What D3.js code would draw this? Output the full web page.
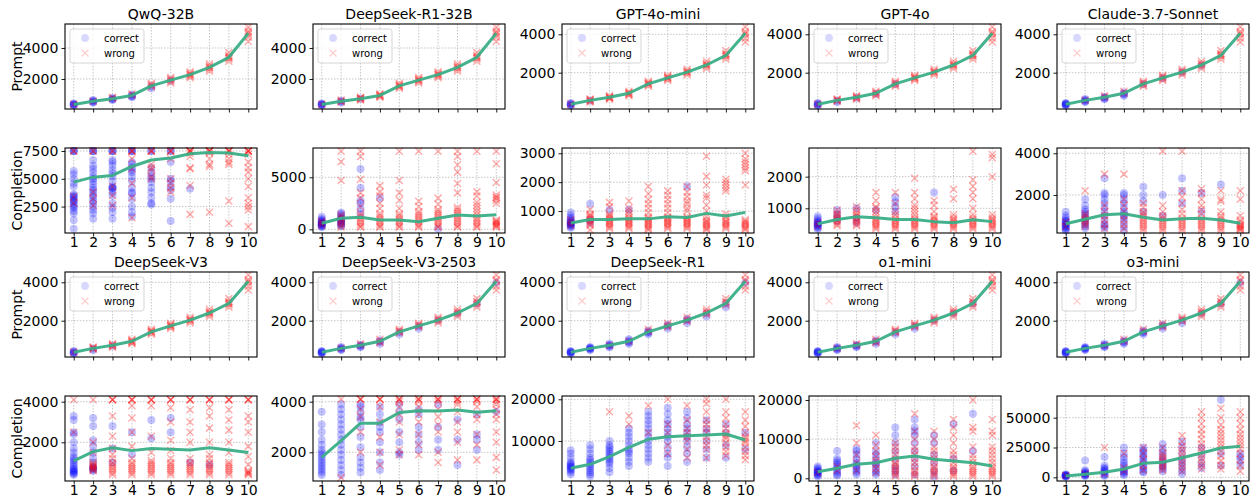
<!DOCTYPE html>
<html lang="en">
<head>
<meta charset="UTF-8">
<title>Prompt and completion tokens per step</title>
<script src="https://d3js.org/d3.v7.min.js"></script>
<style>
  body { margin: 0; background: #fff; font-family: "DejaVu Sans", sans-serif; }
  .grid line { stroke: #b8b8b8; stroke-width: 0.8; stroke-dasharray: 1.5,1.5; }
</style>
</head>
<body>
<svg width="1257" height="502"></svg>
<script>
const steps = [1, 2, 3, 4, 5, 6, 7, 8, 9, 10];

// prompt tokens: same questions for every model, two tokenizer families
const qwenPromptSamples = [
  [350, 300, 390, 330, 420, 370], [550, 480, 600, 520, 640, 570], [720, 640, 770, 690, 820, 740],
  [920, 820, 990, 880, 1050, 950], [1540, 1400, 1630, 1480, 1720, 1580], [1910, 1750, 2000, 1850, 2100, 1950],
  [2260, 2080, 2350, 2180, 2460, 2300], [2720, 2500, 2850, 2630, 2980, 2780], [3380, 3150, 3520, 3300, 3700, 3440],
  [4880, 4420, 5100, 4700, 5330, 4980]
];
const qwenPromptMean = [360, 560, 730, 940, 1560, 1930, 2280, 2750, 3400, 4950];
const gptPromptSamples = [
  [345, 290, 385, 320, 420, 365], [540, 470, 590, 510, 630, 565], [700, 620, 750, 670, 800, 725],
  [900, 800, 965, 860, 1030, 930], [1410, 1300, 1480, 1370, 1550, 1440], [1720, 1600, 1790, 1680, 1870, 1750],
  [2020, 1880, 2090, 1970, 2180, 2050], [2390, 2220, 2480, 2330, 2600, 2430], [2890, 2700, 3000, 2820, 3150, 2940],
  [3980, 3600, 4150, 3800, 4380, 4050]
];
const gptPromptMean = [360, 560, 720, 930, 1420, 1730, 2030, 2400, 2900, 4050];

// how many of the prompt samples per step were answered correctly
const qwqPromptOk = [5, 5, 4, 4, 2, 1, 0, 0, 0, 0];
const r1d32PromptOk = [5, 3, 1, 0, 0, 0, 0, 0, 0, 0];
const miniPromptOk = [5, 1, 0, 0, 0, 0, 0, 0, 0, 0];
const gpt4oPromptOk = [5, 2, 1, 1, 1, 0, 0, 0, 0, 0];
const claudePromptOk = [6, 5, 4, 4, 1, 1, 1, 1, 0, 0];
const v3PromptOk = [5, 2, 1, 0, 0, 0, 0, 0, 0, 0];
const v3nPromptOk = [6, 5, 4, 3, 2, 2, 1, 1, 1, 1];
const r1PromptOk = [6, 6, 5, 5, 4, 3, 3, 2, 2, 1];
const o1PromptOk = [6, 5, 4, 3, 2, 2, 1, 1, 1, 0];
const o3PromptOk = [6, 6, 5, 4, 4, 3, 2, 1, 1, 1];

// completion tokens
const qwqCompMean = [4700, 5150, 5300, 6110, 6690, 6870, 7260, 7370, 7320, 7080];
const qwqCompOk = [
  [7500, 7500, 7500, 5700, 5400, 5000, 4600, 4300, 3600, 3500, 3400, 3300, 3100, 3000, 2900, 2700, 2500, 2400, 2100, 1900, 1300, 500],
  [7500, 7500, 7500, 6700, 6200, 5900, 5600, 5200, 5000, 4800, 4500, 4200, 4000, 3800, 3500, 3300, 3000, 2800, 2500, 2200, 1900, 1400],
  [7500, 7500, 7500, 6700, 6500, 6200, 5800, 5500, 5200, 4800, 4300, 4200, 4200, 4100, 3800, 3500, 2800, 2400, 2000, 1400],
  [7500, 7500, 7500, 6500, 6300, 6000, 5800, 5600, 5200, 4800, 4200, 3800, 3700, 3200, 2500, 2000, 1600],
  [7500, 7500, 6000, 5600, 5200, 5000, 4700, 4200, 3800, 3300, 2800, 2700],
  [7500, 7500, 6500, 5000, 4800, 4300, 4000, 3200, 1200],
  [4100], [], [], []
];
const qwqCompBad = [
  [7500, 7500, 3400, 2800], [7500, 7500, 3800, 3200, 2600], [7500, 7500, 4300, 3500, 2600],
  [7500, 7500, 7500, 6800, 5900, 4600, 3300, 1500], [7500, 7500, 7500, 6300, 6000, 5800, 5200, 5000],
  [7500, 7500, 7500, 6800, 5000, 4600, 4200, 3800], [7500, 7500, 7500, 7500, 7300, 7000, 6000, 5900, 4400, 1800],
  [7500, 7500, 7500, 7500, 7300, 6800, 6300, 6100, 2000], [7500, 7500, 7500, 7500, 7200, 6800, 6500, 6300, 3000, 1000],
  [7500, 7500, 7500, 7500, 7200, 6500, 6000, 5600, 5000, 4300, 3300, 2800, 2500, 2200, 700]
];

const r1d32CompMean = [580, 1060, 1150, 890, 890, 730, 1060, 1380, 1280, 1400];
const r1d32CompOk = [
  [200, 300, 350, 400, 450, 500, 550, 600, 650, 700, 800, 900, 1000, 1200],
  [300, 400, 500, 600, 700, 800, 900, 1000, 1100, 1300, 1500, 1600],
  [5800, 4000, 2800, 2500, 2000, 1500], [3000], [], [], [50], [], [], []
];
const r1d32CompBad = [
  [400, 600, 800],
  [200, 400, 600, 800, 1000, 1200, 1400, 4700, 6500, 7500],
  [200, 300, 500, 700, 900, 1100, 1300, 1500, 2200, 3000, 3500, 4800, 7000, 7500],
  [200, 300, 500, 700, 900, 1100, 1300, 1500, 2000, 2500, 3200, 3600, 4200],
  [200, 300, 500, 700, 900, 1100, 1300, 1500, 2000, 2800, 3500, 4700, 7500],
  [200, 300, 500, 700, 900, 1100, 1300, 1500, 1700, 2200, 2700, 7500],
  [200, 300, 500, 700, 900, 1100, 1300, 1500, 1700, 1900, 2400, 3000, 7500],
  [200, 300, 500, 700, 900, 1100, 1300, 1500, 1700, 1900, 2100, 3500, 4400, 5500, 6200, 7000, 7500],
  [200, 300, 500, 700, 900, 1100, 1400, 1700, 2000, 2300, 2600, 3200, 3600, 7500],
  [200, 300, 400, 500, 600, 700, 800, 900, 2500, 2800, 3000, 3100, 3300, 4500, 6300, 7500]
];

const miniCompMean = [590, 705, 705, 730, 730, 800, 780, 920, 830, 955];
const miniCompOk = [
  [420, 460, 500, 520, 550, 570, 590, 610, 640, 680, 720, 780, 850, 950],
  [1250, 700, 600], [1050], [1050], [], [], [1850], [], [], []
];
const miniCompBad = [
  [500, 600, 700],
  [350, 500, 550, 600, 650, 700, 750, 800, 850, 900, 1050],
  [400, 450, 500, 550, 600, 650, 700, 750, 800, 850, 900, 1150, 1300],
  [400, 450, 500, 550, 600, 650, 700, 750, 800, 900, 1000, 1100, 1350],
  [350, 400, 450, 500, 550, 600, 650, 700, 750, 800, 950, 1100, 1250, 1400, 1600, 1850],
  [400, 450, 500, 550, 600, 650, 700, 750, 800, 950, 1100, 1250, 1400, 1550, 1700],
  [400, 450, 500, 550, 600, 650, 700, 750, 800, 1000, 1100, 1250, 1350, 1500, 1650, 1850],
  [350, 400, 450, 500, 550, 600, 650, 700, 800, 1000, 1200, 1450, 1550, 1900, 2200, 2900],
  [400, 450, 500, 550, 600, 650, 700, 800, 900, 1700, 1800, 1900, 2000, 2100],
  [350, 400, 450, 500, 550, 600, 650, 700, 1900, 2400, 2500, 2600, 2700, 2800, 3000]
];

const gpt4oCompMean = [510, 650, 735, 705, 650, 650, 580, 545, 640, 580];
const gpt4oCompOk = [
  [350, 380, 420, 450, 480, 500, 520, 550, 580, 620, 680, 750],
  [950, 800, 700, 600], [1000, 700, 550], [950], [900, 1050, 1200, 1350], [], [1500], [], [], []
];
const gpt4oCompBad = [
  [450, 550],
  [450, 500, 550, 600, 650, 700, 750, 800, 850, 950],
  [450, 500, 550, 600, 650, 700, 750, 800, 850, 950, 1050],
  [350, 400, 450, 500, 550, 600, 650, 700, 800, 900, 1000, 1050, 1250, 1500],
  [350, 400, 450, 500, 550, 600, 650, 700, 800, 900, 1150, 1500],
  [350, 400, 450, 500, 550, 600, 650, 700, 800, 900, 1000, 1100, 1300, 1500, 1950],
  [350, 400, 450, 500, 550, 600, 650, 700, 750, 900, 1100, 1250],
  [350, 400, 450, 500, 550, 600, 650, 700, 800, 1300, 1600],
  [350, 400, 450, 500, 550, 600, 650, 700, 800, 1000, 1300, 1500, 1700, 1900, 2800],
  [350, 400, 450, 500, 550, 600, 650, 700, 800, 2000, 2600, 2700]
];

const claudeCompMean = [620, 840, 1050, 1100, 930, 800, 865, 880, 800, 640];
const claudeCompOk = [
  [300, 350, 400, 450, 500, 550, 600, 650, 700, 750, 800, 900, 1000, 1200],
  [400, 500, 600, 700, 800, 900, 1000, 1100, 1200, 1300, 1500, 1800],
  [400, 500, 600, 800, 1000, 1200, 1400, 1600, 1800, 2000, 2100, 2800],
  [300, 500, 700, 900, 1000, 1100, 1200, 1400, 1600, 1800, 2000, 2100],
  [1700, 2000, 2400, 1200], [2000, 1000], [2200, 2800, 1600], [2100, 1200], [2500], []
];
const claudeCompBad = [
  [500, 700],
  [500, 600, 700, 800, 900, 1000, 1100, 2200],
  [400, 600, 800, 1000, 1200, 1500, 3000],
  [400, 600, 800, 1000, 1200, 1500, 1800, 3000],
  [300, 400, 500, 600, 700, 800, 900, 1000, 1100, 1200, 1400, 1600],
  [300, 400, 500, 600, 700, 800, 900, 1000, 1200, 1500, 4100],
  [300, 400, 500, 600, 700, 800, 900, 1100, 1300, 1600, 1900, 2200, 4100],
  [300, 400, 500, 600, 700, 800, 900, 1100, 1300, 1500, 1800, 2100, 2300],
  [300, 400, 500, 600, 700, 800, 900, 1000, 1200, 1700, 1800, 2200],
  [300, 350, 400, 450, 500, 550, 600, 700, 800, 1000, 1800, 2200]
];

const v3CompMean = [1090, 1540, 1730, 1590, 1690, 1660, 1620, 1730, 1620, 1500];
const v3CompOk = [
  [400, 450, 500, 550, 600, 650, 700, 800, 900, 1000, 1100, 1200, 1300, 1500, 1700, 2000, 2400, 2500, 3100, 3300],
  [600, 650, 700, 750, 800, 1000, 1200, 1500, 1800, 2100, 2800, 3200],
  [2800, 1700, 1000], [2500, 1400], [2200, 3100], [2500, 3200], [1000], [900], [], []
];
const v3CompBad = [
  [4100, 2500],
  [4100, 600, 650, 700, 750, 800, 850, 900, 1000, 1500, 2000],
  [4100, 4100, 4100, 400, 500, 600, 700, 800, 900, 1000, 1200, 1400, 1700, 2300, 3300],
  [4100, 4100, 4100, 400, 500, 600, 700, 800, 900, 1000, 1200, 1800, 2500, 3200, 3800],
  [4100, 4100, 4100, 400, 500, 600, 700, 800, 900, 1000, 1100, 1500, 2300, 3800],
  [4100, 4100, 4100, 400, 500, 600, 700, 800, 900, 1000, 1200, 1600, 2100, 3000, 3700],
  [4100, 4100, 4100, 400, 500, 600, 700, 800, 900, 1000, 1200, 2000, 2500, 3000, 3600],
  [4100, 4100, 4100, 400, 500, 600, 700, 800, 900, 1000, 1200, 1400, 2000, 2700, 3300, 3700],
  [4100, 4100, 4100, 400, 500, 600, 700, 800, 900, 1000, 1500, 2000, 2600, 3100, 3600],
  [4100, 4100, 4100, 400, 450, 500, 550, 600, 900, 1300, 1800, 2500, 3000, 3300]
];

const v3nCompMean = [1800, 2460, 3150, 3150, 3570, 3640, 3630, 3670, 3580, 3640];
const v3nCompOk = [
  [1100, 1200, 1300, 1400, 1500, 1600, 1700, 1800, 1900, 2000, 2100, 2300, 2500, 2800, 3100, 3600],
  [1100, 1300, 1500, 1700, 1900, 2100, 2300, 2500, 2700, 2900, 3100, 3300, 3500, 3700, 3900],
  [1200, 1400, 1600, 1800, 2200, 2600, 3000, 3300, 3400, 3600, 3800, 3900],
  [1300, 1600, 2000, 2400, 2800, 3000, 3200, 3500, 3800],
  [1900, 2000, 2400, 2800, 3300, 3600, 3900],
  [2100, 2400, 2700, 3000, 3500, 3700],
  [2100, 2500, 3000, 3900], [1500, 2500, 3300], [2100, 2500, 2700, 3500], [3600]
];
const v3nCompBad = [
  [],
  [4100, 1000],
  [4100, 4100, 4100, 2000, 2800, 3400, 3700],
  [4100, 4100, 4100, 1500, 2000, 2600, 3200, 3800],
  [4100, 4100, 4100, 1900, 2100, 2700, 3200, 3500, 3800, 4000],
  [4100, 4100, 4100, 1900, 2300, 2700, 3200, 3500, 3800, 4000],
  [4100, 4100, 4100, 1600, 2000, 2800, 3100, 3400, 3700, 4000],
  [4100, 4100, 4100, 1700, 2400, 2800, 3200, 3600, 3900, 4000],
  [4100, 4100, 4100, 1700, 2300, 2700, 3300, 3500, 3800, 4000],
  [4100, 4100, 4100, 1300, 1800, 2400, 2800, 3300, 3500, 3700, 3900, 4000]
];

const r1CompMean = [3450, 4410, 6240, 8490, 10410, 11030, 11270, 11440, 11680, 10240];
const r1CompOk = [
  [2000, 2500, 3000, 3200, 3500, 3800, 4000, 4300, 4600, 5000, 6000, 7000, 7800],
  [1500, 2000, 2500, 3000, 3500, 4000, 4500, 5000, 5500, 6000, 7000, 8000, 9000],
  [2500, 3500, 4500, 5000, 5500, 6000, 6500, 7000, 7500, 8000, 8500, 9000, 10000],
  [4000, 5000, 6000, 7000, 7500, 8000, 9000, 10000, 11000, 12000, 13000],
  [5000, 6000, 7000, 8000, 9000, 10000, 11000, 12000, 13000, 14000, 15000, 16000, 17000],
  [4000, 6000, 7000, 8500, 10000, 11000, 12000, 13000, 14000, 15000, 16500, 18000],
  [5000, 7000, 8500, 10000, 11000, 12000, 13000, 14000, 15500, 17000],
  [6000, 8000, 10000, 12000, 13000, 15000],
  [6000, 9000, 12000, 14000],
  [8000, 12000]
];
const r1CompBad = [
  [], [], [17000], [14000, 16000], [18500, 12000], [7000, 9000, 12000, 14000, 20000],
  [6000, 8000, 10000, 11000, 12000, 13000, 15000, 18500],
  [6000, 8000, 9000, 10000, 11000, 12000, 13000, 14000, 15000, 17000, 19000, 20000],
  [6500, 7500, 8500, 9500, 10500, 11000, 11500, 12000, 13000, 14000, 15500, 17000, 20000],
  [5500, 6500, 7500, 8500, 9500, 10000, 10500, 11000, 12000, 13500, 15000, 17000]
];

const o1CompMean = [1680, 2550, 3570, 3980, 5100, 5690, 4850, 4410, 3980, 3140];
const o1CompOk = [
  [500, 800, 1000, 1200, 1400, 1600, 1800, 2000, 2300, 2600, 3000],
  [700, 1000, 1500, 2000, 2500, 3000, 3500, 4000, 4500, 5000, 7000],
  [1000, 1500, 2000, 2500, 3000, 3500, 4000, 5000, 6000, 7000, 7500],
  [1000, 1500, 2000, 3000, 3500, 4000, 5000, 6000, 7000, 9000],
  [1000, 2000, 3000, 5000, 7000, 9000, 11000, 13000],
  [1000, 3000, 5000, 7000, 9000, 11000, 12000, 13000, 15000],
  [500, 2000, 4000, 6000, 9000, 11000],
  [2000, 5000, 13800], [7000, 16500], []
];
const o1CompBad = [
  [1500], [2000, 3000], [2000, 4000, 6000, 9000, 13500],
  [1500, 2500, 3500, 4500, 5500, 7000, 8500, 11000],
  [500, 1000, 1500, 2000, 2500, 3000, 3500, 4000, 5000, 6000, 7000, 8000, 9000],
  [500, 1000, 1500, 2000, 3000, 4000, 5000, 6000, 7000, 8000, 10000, 12000, 16500],
  [500, 1000, 1500, 2000, 2500, 3000, 4000, 5000, 6000, 7000, 8000, 10000, 12000],
  [500, 1000, 1500, 2000, 2500, 3000, 4000, 5000, 6000, 7000, 9000, 11000, 13000, 15000],
  [500, 1000, 1500, 2000, 2500, 3000, 4000, 5000, 6000, 8000, 12000, 13000, 20000],
  [500, 1000, 1500, 2000, 2500, 3000, 4000, 5000, 6000, 7000, 8000, 11000, 12000, 15000]
];

const o3CompMean = [1090, 2500, 4200, 6960, 11700, 12580, 16440, 20400, 24600, 26000];
const o3CompOk = [
  [500, 800, 1000, 1200, 1500, 1800, 2000, 2500],
  [1000, 1500, 2000, 2500, 3000, 3500, 4000, 5000, 6000, 14000],
  [1000, 2000, 3000, 4000, 5000, 6000, 7000, 8000, 10000, 17000],
  [2000, 3000, 4000, 5000, 6000, 8000, 10000, 12000, 14000, 17000, 20000, 25000],
  [4000, 5000, 7000, 9000, 11000, 13000, 15000, 17000, 19000, 21000, 23000, 25000],
  [5000, 7000, 9000, 11000, 13000, 15000, 18000, 21000, 24000, 28000],
  [3000, 6000, 9000, 12000, 15000, 20000, 25000, 30000],
  [8000, 12000, 18000, 25000], [10000, 20000, 65000], [10000, 14000, 17000, 20000]
];
const o3CompBad = [
  [1500], [3000], [3000, 25000], [5000, 8000, 20000], [6000, 10000, 15000, 20000, 25000],
  [6000, 8000, 10000, 12000, 14000, 16000, 18000, 20000, 25000],
  [5000, 8000, 11000, 14000, 17000, 20000, 23000, 26000, 30000, 35000],
  [7000, 10000, 13000, 16000, 19000, 22000, 25000, 28000, 32000, 36000, 40000, 45000, 50000, 55000],
  [7000, 10000, 14000, 18000, 22000, 25000, 28000, 31000, 34000, 37000, 40000, 44000, 50000, 58000],
  [5000, 10000, 15000, 20000, 24000, 27000, 30000, 33000, 36000, 40000, 45000, 50000, 55000]
];

// split prompt samples into correct / wrong using the per-step counts
function splitPrompt(samples, okCounts) {
  return {
    ok: samples.map((s, i) => s.slice(0, okCounts[i])),
    bad: samples.map((s, i) => s.slice(okCounts[i]))
  };
}

const promptPanels = [
  ["QwQ-32B", qwenPromptSamples, qwenPromptMean, qwqPromptOk, [65, 5548]],
  ["DeepSeek-R1-32B", qwenPromptSamples, qwenPromptMean, r1d32PromptOk, [65, 5548]],
  ["GPT-4o-mini", gptPromptSamples, gptPromptMean, miniPromptOk, [110, 4536]],
  ["GPT-4o", gptPromptSamples, gptPromptMean, gpt4oPromptOk, [110, 4536]],
  ["Claude-3.7-Sonnet", gptPromptSamples, gptPromptMean, claudePromptOk, [110, 4536]],
  ["DeepSeek-V3", gptPromptSamples, gptPromptMean, v3PromptOk, [110, 4536]],
  ["DeepSeek-V3-2503", gptPromptSamples, gptPromptMean, v3nPromptOk, [110, 4536]],
  ["DeepSeek-R1", gptPromptSamples, gptPromptMean, r1PromptOk, [110, 4536]],
  ["o1-mini", gptPromptSamples, gptPromptMean, o1PromptOk, [110, 4536]],
  ["o3-mini", gptPromptSamples, gptPromptMean, o3PromptOk, [110, 4536]]
];
const compPanels = [
  [qwqCompMean, qwqCompOk, qwqCompBad, [126, 7770], [2500, 5000, 7500]],
  [r1d32CompMean, r1d32CompOk, r1d32CompBad, [-356, 7817], [0, 5000]],
  [miniCompMean, miniCompOk, miniCompBad, [241, 3183], [1000, 2000, 3000]],
  [gpt4oCompMean, gpt4oCompOk, gpt4oCompBad, [221, 2905], [1000, 2000]],
  [claudeCompMean, claudeCompOk, claudeCompBad, [177, 4254], [2000, 4000]],
  [v3CompMean, v3CompOk, v3CompBad, [94, 4281], [2000, 4000]],
  [v3nCompMean, v3nCompOk, v3nCompBad, [866, 4225], [2000, 4000]],
  [r1CompMean, r1CompOk, r1CompBad, [408, 20791], [10000, 20000]],
  [o1CompMean, o1CompOk, o1CompBad, [-689, 21020], [0, 10000, 20000]],
  [o3CompMean, o3CompOk, o3CompBad, [-3100, 68200], [0, 25000, 50000]]
];

const lefts = [65, 313, 562, 809, 1057];
const tops = [24, 148, 272, 396];
const W = 192, H = 85;
const lineColor = "#3aae86";
const svg = d3.select("svg");
const font = "DejaVu Sans, sans-serif";
const xMark = "M-3.5,-3.5L3.5,3.5M-3.5,3.5L3.5,-3.5";

function drawPanel(row, col, o) {
  const g = svg.append("g").attr("transform", `translate(${lefts[col]},${tops[row]})`);
  const x = d3.scaleLinear().domain([0.55, 10.45]).range([0, W]);
  const y = d3.scaleLinear().domain(o.ylim).range([H, 0]);

  // grid
  const grid = g.append("g").attr("class", "grid");
  grid.selectAll(".gx").data(steps).enter().append("line")
    .attr("x1", d => x(d)).attr("x2", d => x(d)).attr("y1", 0).attr("y2", H);
  grid.selectAll(".gy").data(o.ticks).enter().append("line")
    .attr("x1", 0).attr("x2", W).attr("y1", d => y(d)).attr("y2", d => y(d));

  // axes
  const ax = g.append("g").attr("transform", `translate(0,${H})`)
    .call(d3.axisBottom(x).tickValues(steps).tickSize(3.5).tickPadding(0.5)
      .tickFormat(o.xlabels ? d3.format("d") : ""));
  const ay = g.append("g")
    .call(d3.axisLeft(y).tickValues(o.ticks).tickSize(3.5).tickPadding(3.2).tickFormat(d3.format("d")));
  [ax, ay].forEach(a => {
    a.select(".domain").remove();
    a.attr("font-size", 14).attr("font-family", font);
    a.selectAll("line").attr("stroke", "#000").attr("stroke-width", 0.9);
    a.selectAll("text").attr("fill", "#000");
  });

  // points
  const pts = [];
  steps.forEach((s, i) => {
    o.ok[i].forEach(v => pts.push({ s, v }));
  });
  g.append("g").selectAll("circle").data(pts).enter().append("circle")
    .attr("cx", d => x(d.s)).attr("cy", d => y(d.v)).attr("r", 4)
    .attr("fill", "blue").attr("fill-opacity", 0.24);
  const bad = [];
  steps.forEach((s, i) => {
    o.bad[i].forEach(v => bad.push({ s, v }));
  });
  g.append("g").selectAll("path").data(bad).enter().append("path")
    .attr("transform", d => `translate(${x(d.s)},${y(d.v)})`)
    .attr("d", xMark)
    .attr("stroke", "red").attr("stroke-width", 1.5).attr("stroke-opacity", 0.32).attr("fill", "none");

  // mean line
  g.append("path").datum(o.mean)
    .attr("d", d3.line().x((d, i) => x(steps[i])).y(d => y(d)))
    .attr("fill", "none").attr("stroke", lineColor).attr("stroke-width", 3).attr("stroke-opacity", 0.95)
    .attr("stroke-linejoin", "round");

  // frame
  g.append("rect").attr("width", W).attr("height", H)
    .attr("fill", "none").attr("stroke", "#000").attr("stroke-width", 1.1);

  if (o.title) {
    g.append("text").attr("x", W / 2).attr("y", -5).attr("text-anchor", "middle")
      .attr("font-family", font).attr("font-size", 14).text(o.title);
  }
  if (o.legend) {
    const lg = g.append("g").attr("transform", "translate(5,5)");
    lg.append("rect").attr("width", 74).attr("height", 34).attr("rx", 2.5)
      .attr("fill", "#fff").attr("fill-opacity", 0.8).attr("stroke", "#d0d0d0").attr("stroke-width", 0.9);
    lg.append("circle").attr("cx", 15).attr("cy", 9).attr("r", 4).attr("fill", "blue").attr("fill-opacity", 0.15);
    lg.append("path").attr("transform", "translate(15,24)").attr("d", xMark)
      .attr("stroke", "red").attr("stroke-width", 1.2).attr("stroke-opacity", 0.2);
    lg.append("text").attr("x", 34).attr("y", 12.5).attr("font-family", font).attr("font-size", 10).text("correct");
    lg.append("text").attr("x", 34).attr("y", 27.5).attr("font-family", font).attr("font-size", 10).text("wrong");
  }
  if (o.ylabel) {
    svg.append("text")
      .attr("transform", `translate(22,${tops[row] + H / 2}) rotate(-90)`)
      .attr("text-anchor", "middle").attr("font-family", font).attr("font-size", 14).text(o.ylabel);
  }
}

promptPanels.forEach((p, k) => {
  const [title, samples, mean, okCounts, ylim] = p;
  const split = splitPrompt(samples, okCounts);
  const row = k < 5 ? 0 : 2, col = k % 5;
  drawPanel(row, col, {
    title, mean, ok: split.ok, bad: split.bad, ylim, ticks: [2000, 4000],
    legend: true, xlabels: false, ylabel: col === 0 ? "Prompt" : null
  });
});
compPanels.forEach((p, k) => {
  const [mean, ok, bad, ylim, ticks] = p;
  const row = k < 5 ? 1 : 3, col = k % 5;
  drawPanel(row, col, {
    mean, ok, bad, ylim, ticks, legend: false, xlabels: true,
    ylabel: col === 0 ? "Completion" : null
  });
});
</script>
</body>
</html>
